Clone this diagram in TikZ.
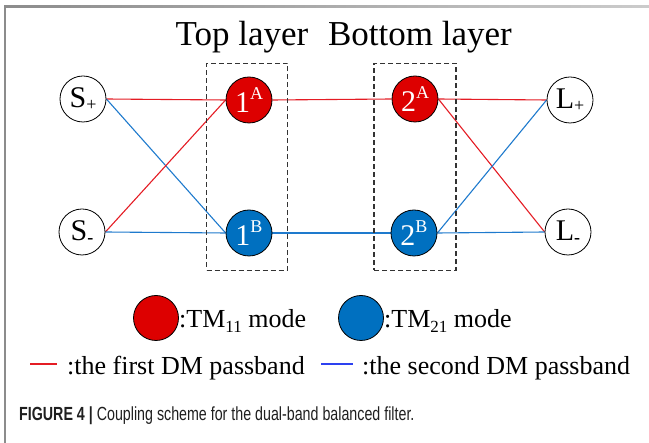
\documentclass[tikz,border=0pt]{standalone}
\usepackage{fontspec}
\setmainfont{Liberation Serif}
\newfontfamily\capfont[FakeStretch=0.75]{Liberation Sans}
\definecolor{redfill}{RGB}{221,0,0}
\definecolor{bluefill}{RGB}{0,112,192}
\definecolor{redline}{RGB}{228,28,36}
\definecolor{blueline}{RGB}{30,122,205}
\definecolor{legblue}{RGB}{45,65,240}
\definecolor{framegray}{RGB}{140,140,140}
\newcommand\upsc[1]{\raisebox{13pt}{\fontsize{18}{18}\selectfont #1}}
\newcommand\dnsc[1]{\raisebox{-3pt}{\fontsize{18}{18}\selectfont #1}}
\newcommand\tmsub[1]{\raisebox{-5pt}{\fontsize{17}{17}\selectfont #1}}
\pgfdeclarelayer{conn}
\pgfsetlayers{conn,main}
\begin{document}
\begin{tikzpicture}[x=1pt,y=-1pt,
  res/.style={circle,draw=black,line width=0.8pt,minimum size=46pt,inner sep=0pt,font=\fontsize{30}{30}\selectfont},
  port/.style={res,fill=white},
  moda/.style={res,fill=redfill,text=white},
  modb/.style={res,fill=bluefill,text=white},
  rl/.style={draw=redline,line width=1.1pt},
  bl/.style={draw=blueline,line width=1.1pt},
  layerbox/.style={draw=black!80,dash pattern=on 5pt off 3pt,line width=1.1pt,inner sep=0pt,fill=none},
  title/.style={anchor=base,inner sep=0pt,font=\fontsize{35}{35}\selectfont},
  legtext/.style={anchor=base west,inner sep=0pt,font=\fontsize{26}{26}\selectfont},
]
\useasboundingbox (0,0) rectangle (649,443);
% frame
\shade[left color=framegray, right color=framegray!45] (4,5.5) rectangle (649,7.5);
\fill[framegray] (3.5,6) rectangle (5.5,443);

% titles
\node[title] (ttop) at (242,46) {Top layer};
\node[title] (tbot) at (420,46) {Bottom layer};

% layer boxes
\node[layerbox,minimum width=81pt,minimum height=207pt] (box1) at (247.2,166.7) {};
\node[layerbox,minimum width=82pt,minimum height=207pt] (box2) at (415,166.7) {};

% nodes
\node[port] (Sp) at (83,99) {S\dnsc{+}};
\node[port] (Sm) at (82,232) {S\dnsc{\textbf{-}}};
\node[moda] (A1) at (249,100) {1\upsc{A}};
\node[modb] (B1) at (249,233) {1\upsc{B}};
\node[moda] (A2) at (415,99) {2\upsc{A}};
\node[modb] (B2) at (414,233) {2\upsc{B}};
\node[port] (Lp) at (570,100) {L\dnsc{+}};
\node[port] (Lm) at (568,232) {L\dnsc{\textbf{-}}};

% connectors
\begin{pgfonlayer}{conn}
\draw[rl] (Sp.east) -- (A1.west);
\draw[bl] (Sp.east) -- (B1.west);
\draw[rl] (Sm.east) -- (A1.west);
\draw[bl] (Sm.east) -- (B1.west);
\draw[rl] (A1.east) -- (A2.west);
\draw[bl] (B1.east) -- (B2.west);
\draw[rl] (A2.east) -- (Lp.west);
\draw[rl] (A2.east) -- (Lm.west);
\draw[bl] (B2.east) -- (Lp.west);
\draw[bl] (B2.east) -- (Lm.west);
\end{pgfonlayer}

% legend
\node[moda,minimum size=45pt] (legA) at (156,318) {};
\node[legtext] (legAt) at (179,328) {:TM\tmsub{11} mode};
\node[modb,minimum size=45pt] (legB) at (361,318) {};
\node[legtext] (legBt) at (384,328) {:TM\tmsub{21} mode};

\coordinate (r1) at (30,364);
\coordinate (r2) at (57,364);
\draw[draw=redline,line width=1.3pt] (r1) -- (r2);
\node[legtext] (legRt) at (67,375) {:the first DM passband};
\coordinate (b1) at (321,364);
\coordinate (b2) at (353,364);
\draw[draw=legblue,line width=1.3pt] (b1) -- (b2);
\node[legtext] (legBlt) at (362,375) {:the second DM passband};

% caption
\node[anchor=base west,inner sep=0pt,font=\capfont\fontsize{19}{22}\selectfont,text=black!88] (cap) at (19,421)
  {\textbf{FIGURE 4 |} Coupling scheme for the dual-band balanced filter.};
\end{tikzpicture}
\end{document}
